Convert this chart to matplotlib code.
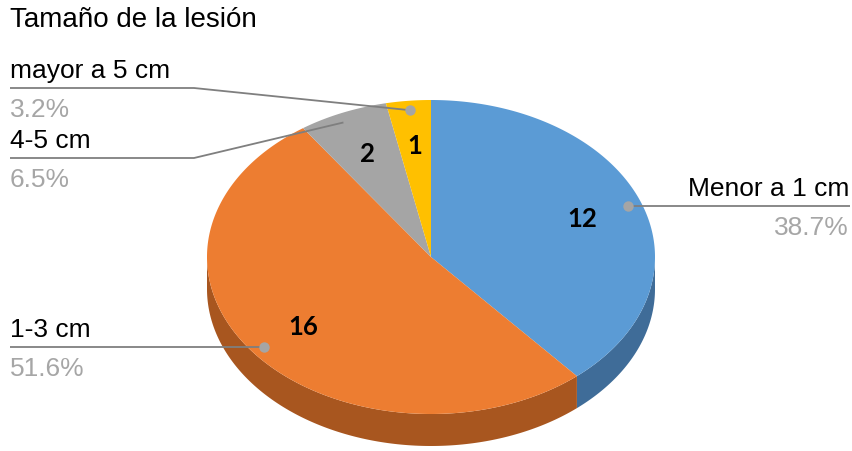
import numpy as np
import matplotlib.pyplot as plt

categorias = ['Menor a 1 cm', '1-3 cm', '4-5 cm', 'mayor a 5 cm']
valores = [12, 16, 2, 1]
colores = ['#5B9BD5', '#ED7D31', '#A5A5A5', '#FFC000']
colores_lado = ['#3F6C98', '#A8561F', '#7C7C7C', '#BF9000']
titulo = 'Tamaño de la lesión'

# geometria del pastel (pixeles)
cx, cy = 431, 258
rx, ry = 224, 157
prof = 32

# posicion de etiquetas: lado, codo (None = recta)
etiquetas = {
    'Menor a 1 cm': ('der', None),
    '1-3 cm': ('izq', None),
    '4-5 cm': ('izq', (194, 159)),
    'mayor a 5 cm': ('izq', (194, 89)),
}

plt.rcParams['font.family'] = ['Liberation Sans', 'DejaVu Sans']

fig = plt.figure(figsize=(8.52, 4.52), dpi=100)
ax = fig.add_axes([0, 0, 1, 1])
ax.set_xlim(0, 852)
ax.set_ylim(452, 0)
ax.axis('off')


def punto(ang, r=1.0, dy=0):
    a = np.radians(ang)
    return cx + r * rx * np.sin(a), cy - r * ry * np.cos(a) + dy


total = sum(valores)
bordes = np.concatenate([[0], np.cumsum(valores)]) / total * 360

# lados (solo la mitad de abajo se ve)
for i in range(len(valores)):
    lo = max(bordes[i], 90)
    hi = min(bordes[i + 1], 270)
    if hi <= lo:
        continue
    th = np.linspace(lo, hi, 150)
    x1, y1 = punto(th)
    x2, y2 = punto(th[::-1], dy=prof)
    ax.fill(np.concatenate([x1, x2]), np.concatenate([y1, y2]),
            color=colores_lado[i], lw=0)

# caras de arriba
for i in range(len(valores)):
    th = np.linspace(bordes[i], bordes[i + 1], 300)
    x, y = punto(th)
    ax.fill(np.concatenate([[cx], x]), np.concatenate([[cy], y]),
            color=colores[i], lw=0)

# numeros y etiquetas
for i, cat in enumerate(categorias):
    medio = (bordes[i] + bordes[i + 1]) / 2
    nx, ny = punto(medio, r=0.72)
    ax.text(nx, ny, str(valores[i]), ha='center', va='center',
            fontsize=18.5, fontweight='bold', family=['Lato', 'DejaVu Sans'])

    px, py = punto(medio, r=0.94)
    lado, codo = etiquetas[cat]
    pct = '{:.1f}%'.format(valores[i] / total * 100)
    if lado == 'der':
        xs, ys = [px, 850], [py, py]
        ly, tx, ha = py, 849, 'right'
    else:
        if codo is None:
            xs, ys = [10, px], [py, py]
            ly = py
        else:
            xs, ys = [10, codo[0], px], [codo[1], codo[1], py]
            ly = codo[1]
        tx, ha = 10, 'left'
    ax.plot(xs, ys, color='#7F7F7F', lw=1.3, solid_capstyle='butt')
    ax.plot(px, py, 'o', color='#A5A5A5', ms=7.5, mec='none')
    ax.text(tx, ly - 11, cat, ha=ha, va='baseline', fontsize=19, color='black')
    ax.text(tx, ly + 28, pct, ha=ha, va='baseline', fontsize=19, color='#A6A6A6')

ax.text(10, 27, titulo, ha='left', va='baseline', fontsize=20, color='black')

fig.savefig('out.png', dpi=100)
